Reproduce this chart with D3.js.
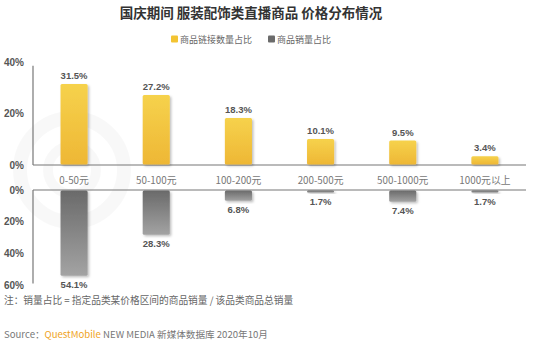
<!DOCTYPE html>
<html><head><meta charset="utf-8">
<script src="https://cdn.jsdelivr.net/npm/d3@7"></script>
<style>
html,body{margin:0;padding:0;background:#fff;}
svg{display:block;font-family:"Noto Sans CJK SC","Noto Sans",sans-serif;}
</style></head>
<body><svg id="c" width="550" height="356"></svg>
<script>
const categories = ["0-50元","50-100元","100-200元","200-500元","500-1000元","1000元以上"];
const linkShare = [31.5, 27.2, 18.3, 10.1, 9.5, 3.4];
const salesShare = [54.1, 28.3, 6.8, 1.7, 7.4, 1.7];
const topTicks = [0, 20, 40];
const bottomTicks = [0, 20, 40, 60];
const seriesNames = ["商品链接数量占比", "商品销量占比"];

const svg = d3.select("#c");
const defs = svg.append("defs");
const gy = defs.append("linearGradient").attr("id","gy").attr("x1",0).attr("y1",0).attr("x2",0).attr("y2",1);
gy.append("stop").attr("offset","0%").attr("stop-color","#f6d24c");
gy.append("stop").attr("offset","100%").attr("stop-color","#eeb735");
const gg = defs.append("linearGradient").attr("id","gg").attr("x1",0).attr("y1",0).attr("x2",0).attr("y2",1);
gg.append("stop").attr("offset","0%").attr("stop-color","#6a6a6a");
gg.append("stop").attr("offset","100%").attr("stop-color","#a3a3a3");
const sh = defs.append("filter").attr("id","sh").attr("x","-20%").attr("y","-20%").attr("width","150%").attr("height","150%");
sh.append("feDropShadow").attr("dx",1.5).attr("dy",1.5).attr("stdDeviation",1.2).attr("flood-color","#000").attr("flood-opacity",0.25);

// watermark (logo rings only)
const wm = svg.append("g").attr("opacity",0.025);
wm.append("circle").attr("cx",72).attr("cy",170).attr("r",52).attr("fill","none").attr("stroke","#000").attr("stroke-width",14);
wm.append("circle").attr("cx",72).attr("cy",170).attr("r",24).attr("fill","none").attr("stroke","#000").attr("stroke-width",10);

const x = d3.scaleBand().domain(categories).range([33, 526]).paddingInner(0.67).paddingOuter(0.335);
const yTop = d3.scaleLinear().domain([0, 40]).range([165, 62]);
const yBot = d3.scaleLinear().domain([0, 60]).range([190, 285]);

// title
svg.append("text").attr("x",251).attr("y",18).attr("text-anchor","middle")
  .attr("font-size",13.5).attr("font-weight","bold").attr("fill","#333")
  .text("国庆期间 服装配饰类直播商品 价格分布情况");

// legend
const leg = [{n:seriesNames[0], c:"#f3c432", x:171},{n:seriesNames[1], c:"#6b6b6b", x:268}];
leg.forEach(d=>{
  svg.append("rect").attr("x",d.x).attr("y",35.5).attr("width",7).attr("height",7).attr("rx",1).attr("fill",d.c);
  svg.append("text").attr("x",d.x+9).attr("y",42.5).attr("font-size",9).attr("fill","#666").text(d.n);
});

// y axes
function yAxis(scale, ticks){
  return d3.axisLeft(scale).tickValues(ticks).tickSize(0).tickPadding(9).tickFormat(d=>d+"%");
}
const ga = svg.append("g").attr("transform","translate(33,0)").call(yAxis(yTop, topTicks));
const gb = svg.append("g").attr("transform","translate(33,0)").call(yAxis(yBot, bottomTicks));
[ga,gb].forEach(g=>{
  g.select(".domain").remove();
  g.selectAll("text").attr("font-size",10).attr("font-weight","bold").attr("fill","#555")
    .attr("font-family","Liberation Sans, Arial, sans-serif");
});
// axis lines
svg.append("line").attr("x1",33).attr("x2",33).attr("y1",yTop(38.5)).attr("y2",yTop(0)).attr("stroke","#777").attr("stroke-width",1.2);
svg.append("line").attr("x1",33).attr("x2",526).attr("y1",yTop(0)).attr("y2",yTop(0)).attr("stroke","#777").attr("stroke-width",1.2);
svg.append("line").attr("x1",33).attr("x2",33).attr("y1",yBot(0)).attr("y2",yBot(59)).attr("stroke","#777").attr("stroke-width",1.2);
svg.append("line").attr("x1",33).attr("x2",526).attr("y1",yBot(0)).attr("y2",yBot(0)).attr("stroke","#777").attr("stroke-width",1.2);

// top bars
svg.append("g").selectAll("rect").data(linkShare).join("rect")
  .attr("x",(d,i)=>x(categories[i])).attr("width",x.bandwidth())
  .attr("y",d=>yTop(d)).attr("height",d=>yTop(0)-yTop(d)-0.6)
  .attr("rx",1.5).attr("fill","url(#gy)").attr("filter","url(#sh)");
svg.append("g").selectAll("text").data(linkShare).join("text")
  .attr("x",(d,i)=>x(categories[i])+x.bandwidth()/2).attr("y",d=>yTop(d)-5)
  .attr("text-anchor","middle").attr("font-size",9.5).attr("font-weight","bold").attr("fill","#555")
  .attr("font-family","Liberation Sans, Arial, sans-serif")
  .text(d=>d.toFixed(1)+"%");

// bottom bars
svg.append("g").selectAll("rect").data(salesShare).join("rect")
  .attr("x",(d,i)=>x(categories[i])).attr("width",x.bandwidth())
  .attr("y",yBot(0)+0.6).attr("height",d=>yBot(d)-yBot(0)-0.6)
  .attr("rx",1.5).attr("fill","url(#gg)").attr("filter","url(#sh)");
svg.append("g").selectAll("text").data(salesShare).join("text")
  .attr("x",(d,i)=>x(categories[i])+x.bandwidth()/2).attr("y",d=>yBot(d)+12)
  .attr("text-anchor","middle").attr("font-size",9.5).attr("font-weight","bold").attr("fill","#555")
  .attr("font-family","Liberation Sans, Arial, sans-serif")
  .text(d=>d.toFixed(1)+"%");

// category labels
svg.append("g").selectAll("text").data(categories).join("text")
  .attr("x",d=>x(d)+x.bandwidth()/2).attr("y",184)
  .attr("text-anchor","middle").attr("font-size",9.8).attr("fill","#777")
  .text(d=>d);

// footnote
svg.append("text").attr("x",4).attr("y",304).attr("font-size",9.7).attr("fill","#666")
  .text("注：销量占比 = 指定品类某价格区间的商品销量 / 该品类商品总销量");

// source
const src = svg.append("text").attr("x",4).attr("y",338).attr("font-size",9.6).attr("fill","#777");
src.append("tspan").text("Source：");
src.append("tspan").attr("fill","#efa323").text("QuestMobile");
src.append("tspan").text(" NEW MEDIA 新媒体数据库 2020年10月");
</script></body></html>
